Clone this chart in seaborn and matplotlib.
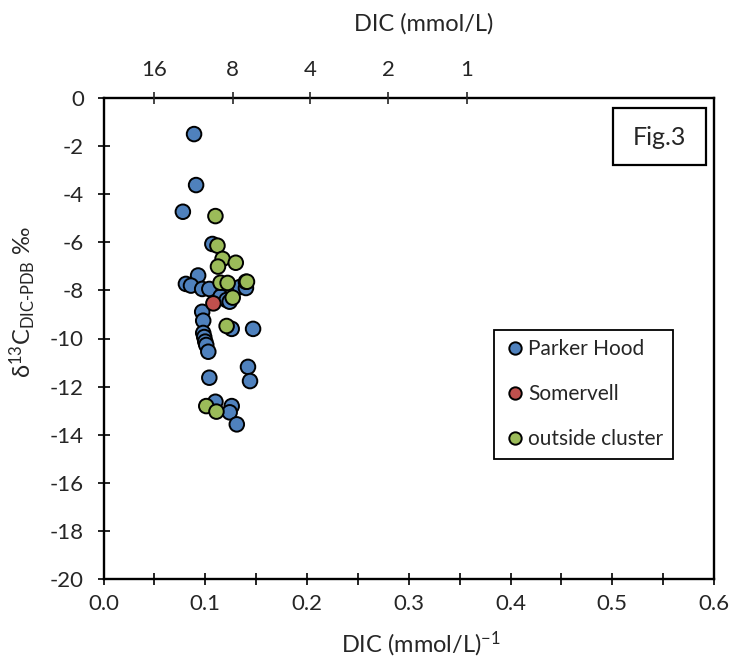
import pandas as pd
import matplotlib
matplotlib.use("Agg")
import matplotlib.pyplot as plt
from matplotlib.patches import Rectangle
import seaborn as sns

# --- donnees ---
parker_x = [0.089, 0.091, 0.078, 0.107, 0.093, 0.081, 0.086, 0.097, 0.104, 0.134,
            0.140, 0.140, 0.115, 0.121, 0.124, 0.097, 0.098, 0.098, 0.099, 0.100,
            0.101, 0.103, 0.126, 0.147, 0.142, 0.144, 0.104, 0.110, 0.126, 0.124,
            0.131]
parker_y = [-1.50, -3.62, -4.73, -6.07, -7.38, -7.73, -7.80, -7.94, -7.94, -7.86,
            -7.90, -7.64, -8.26, -8.40, -8.47, -8.89, -9.26, -9.77, -9.94, -10.13,
            -10.27, -10.55, -9.60, -9.60, -11.18, -11.77, -11.63, -12.63, -12.81, -13.07,
            -13.57]

somervell_x = [0.108]
somervell_y = [-8.54]

outside_x = [0.110, 0.112, 0.117, 0.130, 0.1125, 0.115, 0.122, 0.141, 0.127, 0.121,
             0.101, 0.111]
outside_y = [-4.91, -6.14, -6.69, -6.85, -7.01, -7.68, -7.69, -7.64, -8.30, -9.48,
             -12.81, -13.04]

groupes = ["Parker Hood", "Somervell", "outside cluster"]
couleurs = ["#4F81BD", "#C0504D", "#9BBB59"]

# axe du haut (DIC en mmol/L)
top_pos = [0.05, 0.127, 0.203, 0.28, 0.357]
top_labels = ["16", "8", "4", "2", "1"]

df = pd.DataFrame({
    "x": parker_x + somervell_x + outside_x,
    "y": parker_y + somervell_y + outside_y,
    "groupe": [groupes[0]] * len(parker_x) + [groupes[1]] * len(somervell_x)
              + [groupes[2]] * len(outside_x),
})

sns.set_style("ticks")
plt.rcParams["font.family"] = ["Lato", "DejaVu Sans"]
plt.rcParams["axes.unicode_minus"] = False
plt.rcParams["mathtext.fontset"] = "custom"
plt.rcParams["mathtext.rm"] = "Lato"
plt.rcParams["mathtext.it"] = "Lato:italic"

fig = plt.figure(figsize=(7.31, 6.71), dpi=100)
ax = fig.add_axes([103.5 / 731, 1 - 579 / 671, (714 - 103.5) / 731, (579 - 98) / 671])

sns.scatterplot(data=df, x="x", y="y", hue="groupe", hue_order=groupes,
                palette=couleurs, s=110, edgecolor="black", linewidth=1.4,
                ax=ax, zorder=3)

ax.set_xlim(0, 0.6)
ax.set_ylim(-20, 0)
ax.set_xticks([0.0, 0.1, 0.2, 0.3, 0.4, 0.5, 0.6])
ax.set_xticklabels(["0.0", "0.1", "0.2", "0.3", "0.4", "0.5", "0.6"])
ax.set_xticks([0.05, 0.15, 0.25, 0.35, 0.45, 0.55], minor=True)
ax.set_yticks(range(-20, 1, 2))
ax.tick_params(axis="both", which="both", direction="inout", length=8, width=1.2,
               labelsize=16, color="black")
ax.tick_params(axis="x", pad=7)
ax.tick_params(axis="y", pad=10)
for sp in ax.spines.values():
    sp.set_linewidth(1.7)
    sp.set_color("black")

ax.set_xlabel("DIC (mmol/L)$^{-1}$", fontsize=17)
ax.xaxis.set_label_coords(0.52, -0.105)
ax.set_ylabel("δ$^{13}$C$_{\\mathrm{DIC\\text{-}PDB}}$ ‰", fontsize=17)
ax.yaxis.set_label_coords(-0.107, 0.575)

ax2 = ax.twiny()
ax2.set_xlim(ax.get_xlim())
ax2.set_xticks(top_pos)
ax2.set_xticklabels(top_labels)
ax2.tick_params(axis="x", direction="inout", length=8, width=1.2, labelsize=16, pad=9)
for sp in ax2.spines.values():
    sp.set_visible(False)
ax2.set_xlabel("DIC (mmol/L)", fontsize=17)
ax2.xaxis.set_label_coords(0.525, 1.14)

leg = ax.legend(title=None, loc="upper left", bbox_to_anchor=(0.6396, 0.518),
                fontsize=15, frameon=True, fancybox=False, framealpha=1,
                edgecolor="black", labelspacing=1.2, handletextpad=0.1,
                borderpad=0.45, handlelength=1.1, markerscale=0.85,
                borderaxespad=0)
leg.get_frame().set_linewidth(1.3)

ax.add_patch(Rectangle((0.8346, 0.8607), 0.1523, 0.1185, transform=ax.transAxes,
                       facecolor="white", edgecolor="black", linewidth=1.6, zorder=5))
ax.text(0.9108, 0.918, "Fig.3", transform=ax.transAxes, fontsize=18,
        ha="center", va="center", zorder=6)

fig.savefig("out.png", dpi=100)
